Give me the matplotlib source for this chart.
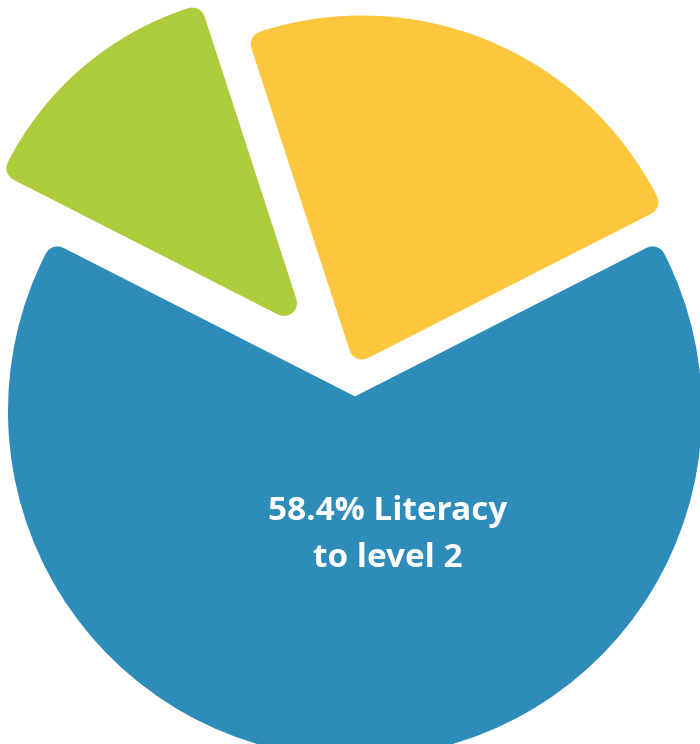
import matplotlib
matplotlib.use("Agg")
import matplotlib.pyplot as plt

# slice shares, counter-clockwise from the lower-right cut
labels = ["yellow", "green", "Literacy to level 2"]
shares = [22.5, 12.5, 65.0]
colors = ["#FDC73D", "#ADCC3B", "#2E8CBA"]

W, H = 700, 744
fig = plt.figure(figsize=(W / 100, H / 100), dpi=100)
ax = fig.add_axes([0, 0, 1, 1])

cx, cy, R = 355, 333, 334
corner = 26 * 0.72          # stroke width in pt -> rounded corners of ~13 px
wedges, _ = ax.pie(shares, colors=colors, startangle=27, radius=R, center=(cx, cy),
                   counterclock=True,
                   wedgeprops=dict(linewidth=corner, joinstyle="round"))

# hand-tuned offsets and radii so the slices sit apart like the picture
shift = [(7, 64.5), (-71, 108), (0, 0)]
radii = [318, 297, 334]
for w, (dx, dy), r in zip(wedges, shift, radii):
    w.set_edgecolor(w.get_facecolor())
    w.set_center((cx + dx, cy + dy))
    w.set_radius(r)

txt = dict(color="white", fontsize=24, fontweight="bold", family="Open Sans",
           ha="center", va="baseline")
ax.text(388, H - 520, "58.4% Literacy", **txt)
ax.text(388, H - 567, "to level 2", **txt)

ax.set_xlim(0, W)
ax.set_ylim(0, H)
ax.set_aspect("auto")
ax.axis("off")
fig.savefig("out.png", dpi=100)
